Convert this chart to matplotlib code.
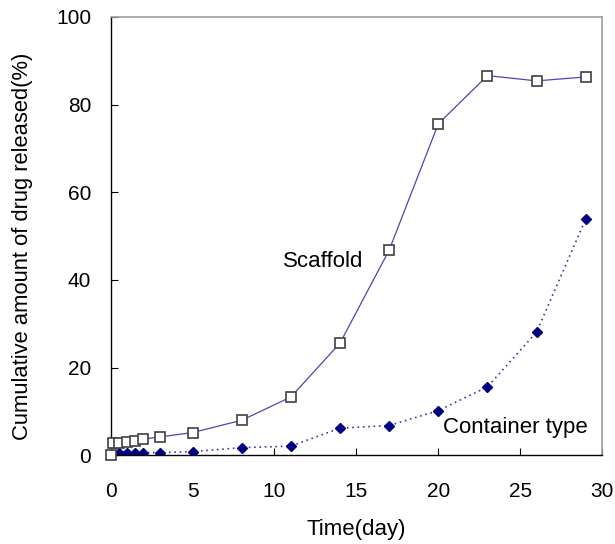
import matplotlib
matplotlib.use("Agg")
import matplotlib.pyplot as plt

# Data
scaffold_t = [0, 0.125, 0.5, 1, 1.5, 2, 3, 5, 8, 11, 14, 17, 20, 23, 26, 29]
scaffold_v = [0, 2.7, 2.7, 3.0, 3.2, 3.7, 4.2, 5.2, 8.0, 13.3, 25.6, 46.8, 75.6, 86.6, 85.4, 86.3]
container_t = [0, 0.5, 1, 1.5, 2, 3, 5, 8, 11, 14, 17, 20, 23, 26, 29]
container_v = [0, 0.6, 0.6, 0.6, 0.6, 0.6, 0.85, 1.75, 2.1, 6.2, 6.8, 10.2, 15.6, 28.1, 53.9]
xticks = [0, 5, 10, 15, 20, 25, 30]
yticks = [0, 20, 40, 60, 80, 100]

plt.rcParams['font.family'] = ['Liberation Sans', 'DejaVu Sans']

fig = plt.figure(figsize=(6.15, 5.44), dpi=100)
ax = fig.add_axes([0.18, 0.163, 0.799, 0.806])

ax.plot(container_t, container_v, linestyle=(0, (1, 2.2)), color='#3a3aa8', linewidth=1.2,
        marker='D', markersize=5.5, markerfacecolor='#000080', markeredgecolor='#000080', zorder=2)
ax.plot(scaffold_t, scaffold_v, linestyle='-', color='#4848b4', linewidth=0.9,
        marker='s', markersize=6.5, markerfacecolor='white', markeredgecolor='#404040',
        markeredgewidth=1.2, zorder=3, clip_on=False)

ax.set_xlim(0, 30)
ax.set_ylim(0, 100)
ax.set_xticks(xticks)
ax.set_yticks(yticks)
ax.tick_params(axis='x', direction='in', length=5, pad=19, labelsize=15)
ax.tick_params(axis='y', direction='in', length=5, pad=14, labelsize=15)
for s in ['top', 'right']:
    ax.spines[s].set_color('#a0a0a0')
    ax.spines[s].set_linewidth(1.2)
for s in ['left', 'bottom']:
    ax.spines[s].set_color('black')
    ax.spines[s].set_linewidth(1.0)

ax.set_xlabel('Time(day)', fontsize=16, labelpad=13)
ax.set_ylabel('Cumulative amount of drug released(%)', fontsize=15.8, va='center')
ax.yaxis.set_label_coords(-0.18, 0.476)

ax.text(13.0, 43.0, 'Scaffold', fontsize=16, ha='center', va='baseline')
ax.text(24.7, 5.2, 'Container type', fontsize=16, ha='center', va='baseline')

fig.savefig('out.png', dpi=100)
